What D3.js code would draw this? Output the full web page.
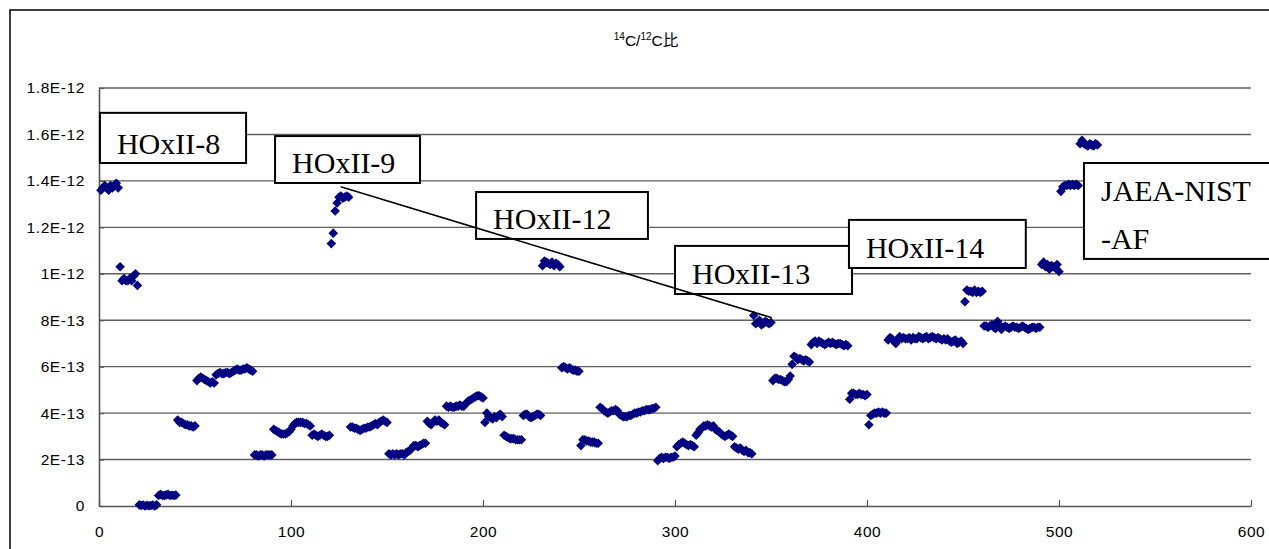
<!DOCTYPE html>
<html>
<head>
<meta charset="utf-8">
<script src="https://cdn.jsdelivr.net/npm/d3@7"></script>
<style>
  body { margin: 0; background: #fff; }
  svg { display: block; }
</style>
</head>
<body>
<div id="chart"></div>
<script>
var chart_width = 1269
var chart_height = 549

// 14C/12C ratio, in units of 1E-13, one value per measurement (No. 1 - 520)
var ratio_001_100 = [
  13.6, 13.7, 13.8, 13.7, 13.6, 13.8, 13.7, 13.8, 13.9, 13.7,
  10.3, 9.7, 9.8, 9.7, 9.7, 9.8, 9.7, 9.9, 10.0, 9.5,
  0.05, 0.02, 0.04, 0.0, 0.03, 0.01, 0.02, 0.04, 0.0, 0.05,
  0.45, 0.5, 0.45, 0.45, 0.48, 0.5, 0.45, 0.46, 0.45, 0.47,
  3.7, 3.6, 3.6, 3.55, 3.5, 3.5, 3.45, 3.45, 3.4, 3.45,
  5.4, 5.5, 5.55, 5.5, 5.45, 5.4, 5.35, 5.3, 5.35, 5.3,
  5.65, 5.7, 5.75, 5.7, 5.7, 5.75, 5.75, 5.7, 5.75, 5.8,
  5.85, 5.9, 5.85, 5.85, 5.9, 5.9, 5.95, 5.9, 5.85, 5.8,
  2.2, 2.2, 2.15, 2.2, 2.2, 2.15, 2.2, 2.2, 2.2, 2.2,
  3.3, 3.25, 3.2, 3.15, 3.1, 3.1, 3.1, 3.15, 3.2, 3.3
]
var ratio_101_200 = [
  3.45, 3.55, 3.6, 3.6, 3.6, 3.6, 3.55, 3.55, 3.5, 3.45,
  3.05, 3.1, 3.05, 3.0, 3.05, 3.1, 3.05, 3.0, 3.0, 3.05,
  11.3, 11.75, 12.7, 13.05, 13.3, 13.35, 13.25, 13.3, 13.35, 13.3,
  3.4, 3.4, 3.35, 3.35, 3.3, 3.25, 3.3, 3.35, 3.35, 3.4,
  3.4, 3.45, 3.5, 3.55, 3.5, 3.6, 3.65, 3.7, 3.65, 3.6,
  2.25, 2.2, 2.25, 2.2, 2.25, 2.2, 2.25, 2.25, 2.2, 2.3,
  2.35, 2.4, 2.5, 2.6, 2.6, 2.55, 2.6, 2.65, 2.7, 2.7,
  3.65, 3.55, 3.5, 3.6, 3.7, 3.65, 3.7, 3.6, 3.55, 3.5,
  4.3, 4.25, 4.3, 4.25, 4.25, 4.3, 4.3, 4.35, 4.3, 4.3,
  4.4, 4.5, 4.55, 4.6, 4.65, 4.7, 4.75, 4.75, 4.7, 4.65
]
var ratio_201_300 = [
  3.6, 4.0, 3.85, 3.8, 3.75, 3.85, 3.8, 3.9, 3.95, 3.85,
  3.05, 3.0, 2.95, 2.9, 2.9, 2.9, 2.85, 2.85, 2.85, 2.85,
  3.9, 3.95, 3.95, 3.85, 3.8, 3.85, 3.9, 3.95, 3.95, 3.9,
  10.35, 10.55, 10.5, 10.45, 10.4, 10.5, 10.35, 10.45, 10.4, 10.3,
  5.95, 6.0, 5.95, 5.9, 5.95, 5.9, 5.85, 5.85, 5.8, 5.8,
  2.6, 2.85, 2.85, 2.8, 2.8, 2.75, 2.75, 2.75, 2.7, 2.7,
  4.25, 4.2, 4.1, 4.05, 4.0, 4.05, 4.1, 4.1, 4.15, 4.1,
  3.95, 3.9, 3.85, 3.85, 3.85, 3.9, 3.9, 3.95, 4.0, 4.0,
  4.05, 4.05, 4.1, 4.1, 4.15, 4.15, 4.15, 4.2, 4.2, 4.25,
  1.95, 2.05, 2.1, 2.05, 2.1, 2.1, 2.05, 2.1, 2.1, 2.15
]
var ratio_301_400 = [
  2.55, 2.65, 2.7, 2.75, 2.7, 2.65, 2.6, 2.65, 2.6, 2.55,
  3.05, 3.15, 3.3, 3.35, 3.45, 3.45, 3.5, 3.45, 3.4, 3.45,
  3.3, 3.25, 3.2, 3.1, 3.05, 3.0, 3.05, 3.1, 3.05, 3.0,
  2.55, 2.5, 2.45, 2.5, 2.4, 2.35, 2.4, 2.3, 2.3, 2.25,
  8.2, 7.85, 7.9, 8.0, 7.8, 7.85, 7.95, 7.9, 7.85, 7.9,
  5.4, 5.5, 5.5, 5.45, 5.45, 5.4, 5.35, 5.35, 5.45, 5.6,
  6.1, 6.45, 6.4, 6.3, 6.35, 6.3, 6.25, 6.3, 6.25, 6.2,
  6.95, 7.05, 7.1, 7.0, 7.1, 7.05, 7.0, 6.95, 7.0, 7.05,
  7.0, 7.05, 7.0, 6.95, 7.0, 7.0, 6.95, 6.9, 6.95, 6.9,
  4.6, 4.85, 4.85, 4.8, 4.8, 4.85, 4.8, 4.8, 4.75, 4.8
]
var ratio_401_520 = [
  3.5, 3.9, 3.95, 4.0, 4.0, 4.05, 4.0, 4.05, 4.0, 4.0,
  7.15, 7.25, 7.2, 7.1, 7.0, 7.15, 7.3, 7.2, 7.25, 7.2,
  7.2, 7.25, 7.15, 7.25, 7.2, 7.2, 7.3, 7.25, 7.2, 7.25,
  7.3, 7.2, 7.25, 7.3, 7.25, 7.2, 7.25, 7.2, 7.15, 7.2,
  7.15, 7.2, 7.1, 7.05, 7.1, 7.15, 7.0, 7.05, 7.1, 7.0,
  8.8, 9.3, 9.25, 9.25, 9.2, 9.3, 9.2, 9.25, 9.2, 9.25,
  7.75, 7.75, 7.7, 7.75, 7.8, 7.7, 7.65, 7.95, 7.8, 7.6,
  7.7, 7.75, 7.7, 7.65, 7.7, 7.75, 7.7, 7.7, 7.65, 7.7,
  7.75, 7.7, 7.65, 7.6, 7.65, 7.7, 7.7, 7.65, 7.7, 7.7,
  10.4, 10.5, 10.3, 10.4, 10.2, 10.35, 10.3, 10.25, 10.4, 10.1,
  13.55, 13.75, 13.8, 13.8, 13.85, 13.8, 13.85, 13.8, 13.85, 13.8,
  15.6, 15.75, 15.6, 15.55, 15.5, 15.6, 15.55, 15.5, 15.6, 15.55
]

// axes
var x_ticks = [0, 100, 200, 300, 400, 500, 600]
var y_ticks = [0, 2e-13, 4e-13, 6e-13, 8e-13, 1e-12, 1.2e-12, 1.4e-12, 1.6e-12, 1.8e-12]
var y_tick_labels = ['0', '2E-13', '4E-13', '6E-13', '8E-13', '1E-12', '1.2E-12', '1.4E-12', '1.6E-12', '1.8E-12']

// sample labels: text lines, box corners [x0, x1] in measurement no. and [top, bottom] in 1E-13
var label_lines = [['HOxII-8'], ['HOxII-9'], ['HOxII-12'], ['HOxII-13'], ['HOxII-14'], ['JAEA-NIST', '-AF']]
var label_x = [[0.5, 76.6], [91.7, 167.2], [196.4, 285.9], [300, 392.2], [390.6, 482.7], [513, 620]]
var label_y = [[16.93, 14.77], [15.93, 13.91], [13.52, 11.5], [11.2, 9.13], [12.32, 10.25], [14.77, 10.64]]
// leader line from HOxII-9 label to HOxII-13 group
var leader_x = [125.9, 350.4]
var leader_y = [13.75, 8.11]

var data = ratio_001_100.concat(ratio_101_200, ratio_201_300, ratio_301_400, ratio_401_520)
  .map(function(v, i) { return { n: i + 1, value: v * 1e-13 } })

var svg = d3.select('#chart')
  .append('svg')
  .attr('width', chart_width)
  .attr('height', chart_height)

var sans = '"Liberation Sans", Arial, "Noto Sans CJK JP", sans-serif'

// outer frame
svg.append('rect')
  .attr('x', 10)
  .attr('y', 10)
  .attr('width', 1300)
  .attr('height', 600)
  .attr('fill', 'none')
  .attr('stroke', '#000')
  .attr('stroke-width', 1.5)

// title
var title = svg.append('text')
  .attr('x', 646)
  .attr('y', 46)
  .attr('text-anchor', 'middle')
  .attr('font-family', sans)
  .attr('font-size', 15.5)
  .attr('fill', '#000')
title.append('tspan').attr('font-size', 10).attr('dy', -6).text('14')
title.append('tspan').attr('dy', 6).text('C/')
title.append('tspan').attr('font-size', 10).attr('dy', -6).text('12')
title.append('tspan').attr('dy', 6).text('C比')

// scales
var x_scale = d3.scaleLinear()
  .domain([0, 600])
  .range([99, 1251])

var y_scale = d3.scaleLinear()
  .domain([0, 1.8e-12])
  .range([506, 88])

// gridlines
svg.append('g')
  .selectAll('line')
  .data(y_ticks.slice(1))
  .enter()
  .append('line')
  .attr('x1', x_scale(0))
  .attr('x2', x_scale(600))
  .attr('y1', d => y_scale(d))
  .attr('y2', d => y_scale(d))
  .attr('stroke', '#5e5e5e')
  .attr('stroke-width', 1.4)

// axes
var x_axis = d3.axisBottom(x_scale)
  .tickValues(x_ticks)
  .tickFormat(d3.format('d'))
  .tickSizeInner(-6)
  .tickSizeOuter(0)
  .tickPadding(20)

var y_axis = d3.axisLeft(y_scale)
  .tickValues(y_ticks)
  .tickFormat((d, i) => y_tick_labels[i])
  .tickSizeInner(-5)
  .tickSizeOuter(0)
  .tickPadding(14)

var gx = svg.append('g')
  .attr('transform', 'translate(0, ' + y_scale(0) + ')')
  .call(x_axis)

var gy = svg.append('g')
  .attr('transform', 'translate(' + x_scale(0) + ', 0)')
  .call(y_axis)

;[gx, gy].forEach(function(g) {
  g.select('.domain').attr('stroke', '#555').attr('stroke-width', 1.6)
  g.selectAll('.tick line').attr('stroke', '#555').attr('stroke-width', 1.2)
  g.selectAll('.tick text')
    .attr('font-family', sans)
    .attr('font-size', 15.5)
    .attr('letter-spacing', 0.6)
    .attr('fill', '#000')
})

// points
var diamond = {
  draw: function(ctx, size) {
    var r = Math.sqrt(size / 2)
    ctx.moveTo(0, -r)
    ctx.lineTo(r, 0)
    ctx.lineTo(0, r)
    ctx.lineTo(-r, 0)
    ctx.closePath()
  }
}

svg.append('g')
  .selectAll('path')
  .data(data)
  .enter()
  .append('path')
  .attr('d', d3.symbol().type(diamond).size(46))
  .attr('transform', d => 'translate(' + x_scale(d.n) + ',' + y_scale(d.value) + ')')
  .attr('fill', '#000080')

// sample label boxes
var labels = svg.append('g')
label_lines.forEach(function(lines, i) {
  var x0 = x_scale(label_x[i][0])
  var x1 = x_scale(label_x[i][1])
  var top = y_scale(label_y[i][0] * 1e-13)
  var bottom = y_scale(label_y[i][1] * 1e-13)
  var g = labels.append('g')
  g.append('rect')
    .attr('x', x0)
    .attr('y', top)
    .attr('width', x1 - x0)
    .attr('height', bottom - top)
    .attr('fill', '#fff')
    .attr('stroke', '#000')
    .attr('stroke-width', 2)
  lines.forEach(function(t, j) {
    g.append('text')
      .attr('x', x0 + 17)
      .attr('y', bottom - 9.5 - (lines.length - 1 - j) * 48)
      .attr('font-family', '"Liberation Serif", "Times New Roman", serif')
      .attr('font-size', 30)
      .attr('fill', '#000')
      .text(t)
  })
})

// leader line
svg.append('line')
  .attr('x1', x_scale(leader_x[0]))
  .attr('y1', y_scale(leader_y[0] * 1e-13))
  .attr('x2', x_scale(leader_x[1]))
  .attr('y2', y_scale(leader_y[1] * 1e-13))
  .attr('stroke', '#000')
  .attr('stroke-width', 1.6)
</script>
</body>
</html>
